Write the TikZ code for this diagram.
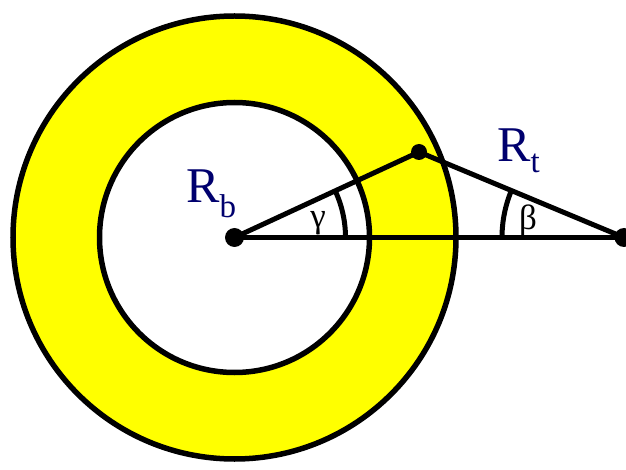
\documentclass[tikz,border=0pt]{standalone}
\usepackage{fontspec}
\setmainfont{Liberation Serif}
\definecolor{navy}{RGB}{0,0,110}
\definecolor{ringyellow}{RGB}{255,255,0}
\begin{document}
\begin{tikzpicture}[x=1pt,y=1pt,
  ring/.style={line width=5.5pt, draw=black},
  seg/.style={line width=5pt, draw=black},
  dotpt/.style={circle, fill=black, inner sep=0pt, minimum size=19pt},
  lbl/.style={text=navy, inner sep=0pt, font=\fontsize{50}{50}\selectfont},
  ang/.style={inner sep=0pt, font=\fontsize{35}{35}\selectfont}]
\useasboundingbox (0,0) rectangle (626,469);
\clip (0,0) rectangle (626,469);
\coordinate (C) at (234.5,231.5);
\coordinate (P) at (419,317);
\coordinate (Q) at (624,231.5);
% annulus
\fill[ringyellow] (C) circle[radius=221.5];
\fill[white] (C) circle[radius=135];
\draw[ring] (C) circle[radius=221.5];
\draw[ring] (C) circle[radius=135];
% segments
\draw[seg] (C) -- (Q);
\draw[seg] (C) -- (P) -- (Q);
% angle arcs
\draw[seg] ([shift={(0:111)}]C) arc[start angle=0, end angle=24.8, radius=111];
\draw[seg] ([shift={(180:122)}]Q) arc[start angle=180, end angle=157.3, radius=122];
% dots
\node[dotpt] (c) at (C) {};
\node[dotpt, minimum size=16pt] (p) at (P) {};
\node[dotpt] (q) at (Q) {};
% labels
\node[lbl, anchor=base west] (rb) at (186,266) {R\raisebox{-15pt}{\fontsize{33}{33}\selectfont b}};
\node[lbl, anchor=base west] (rt) at (497,307) {R\raisebox{-11pt}{\fontsize{33}{33}\selectfont t}};
\node[ang] (g) at (318,246) {γ};
\node[ang] (b) at (528,248) {β};
\end{tikzpicture}
\end{document}
